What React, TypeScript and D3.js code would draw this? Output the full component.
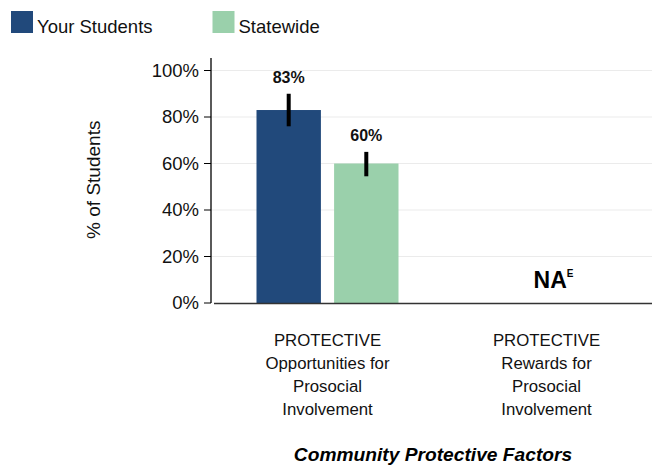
import * as d3 from "d3";

const categories = [
  ["PROTECTIVE", "Opportunities for", "Prosocial", "Involvement"],
  ["PROTECTIVE", "Rewards for", "Prosocial", "Involvement"],
];
const categoryKeys = ["opportunities", "rewards"];
const seriesNames = ["Your Students", "Statewide"];
const seriesColors = ["#21497b", "#9ad0ab"];
// null = not available
const yourStudents = [0.83, null];
const statewide = [0.6, null];
const yourStudentsCI = [[0.76, 0.9], null];
const statewideCI = [[0.545, 0.65], null];
const yTicks = [0, 0.2, 0.4, 0.6, 0.8, 1.0];

const W = 652;
const H = 466;
const FONT = "'Liberation Sans', Arial, Helvetica, sans-serif";

export default function App() {
  const y = d3.scaleLinear().domain([0, 1]).range([303, 70.5]);
  const x0 = d3.scaleBand().domain(categoryKeys).range([218, 656]);
  const x1 = d3.scaleBand().domain(seriesNames).range([-71, 71]).paddingInner(0.17);
  const fmt = d3.format(".0%");
  const axisX = 211;

  const values = [yourStudents, statewide];
  const cis = [yourStudentsCI, statewideCI];

  return (
    <div style={{ position: "absolute", left: 0, top: 0, width: W, height: H, background: "#fff" }}>
      <svg width={W} height={H} style={{ display: "block", fontFamily: FONT }}>
        {/* legend */}
        {seriesNames.map((s, i) => (
          <g key={s} transform={`translate(${11 + i * 201.5},11)`}>
            <rect width={22} height={22} fill={seriesColors[i]} />
            <text x={26} y={22} fontSize={18.5} fill="#111">
              {s}
            </text>
          </g>
        ))}

        {/* gridlines */}
        {yTicks.filter((t) => t > 0).map((t) => (
          <line key={t} x1={axisX} x2={W} y1={y(t)} y2={y(t)} stroke="#ebebeb" strokeWidth={1} />
        ))}

        {/* bars */}
        {categoryKeys.map((c, ci) => (
          <g key={c} transform={`translate(${(x0(c) || 0) + x0.bandwidth() / 2},0)`}>
            {seriesNames.map((s, si) => {
              const v = values[si][ci];
              if (v == null) return null;
              const bx = x1(s) || 0;
              const ci2 = cis[si][ci] as number[];
              const cx = bx + x1.bandwidth() / 2;
              return (
                <g key={s}>
                  <rect x={bx} y={y(v)} width={x1.bandwidth()} height={y(0) - y(v)} fill={seriesColors[si]} />
                  <line x1={cx} x2={cx} y1={y(ci2[0])} y2={y(ci2[1])} stroke="#000" strokeWidth={4} />
                  <text x={cx} y={y(ci2[1]) - 10.5} textAnchor="middle" fontSize={16} fontWeight="bold" fill="#111">
                    {fmt(v)}
                  </text>
                </g>
              );
            })}
            {values.every((arr) => arr[ci] == null) && (
              <text x={7} y={y(0) - 15} textAnchor="middle" fontSize={23} fontWeight="bold" fill="#000">
                NA<tspan fontSize={10} dy={-11}>E</tspan>
              </text>
            )}
            {categories[ci].map((line, li) => (
              <text key={li} x={0} y={345.5 + li * 23.3} textAnchor="middle" fontSize={16.8} fill="#111">
                {line}
              </text>
            ))}
          </g>
        ))}

        {/* y axis */}
        <line x1={axisX} x2={axisX} y1={y(0)} y2={y(1.054)} stroke="#000" strokeWidth={1.3} />
        {yTicks.map((t) => (
          <g key={t} transform={`translate(0,${y(t)})`}>
            <line x1={axisX - 7} x2={axisX} stroke="#000" strokeWidth={1} />
            <text x={axisX - 12} dy="0.35em" textAnchor="end" fontSize={18.5} fill="#111">
              {fmt(t)}
            </text>
          </g>
        ))}
        {/* x axis */}
        <line x1={axisX + 3} x2={W} y1={y(0) + 0.5} y2={y(0) + 0.5} stroke="#333" strokeWidth={1.5} />

        <text
          transform={`translate(100,${(y(0) + y(1)) / 2 - 7}) rotate(-90)`}
          textAnchor="middle"
          fontSize={19}
          fill="#111"
        >
          % of Students
        </text>

        <text x={433} y={461} textAnchor="middle" fontSize={19.2} fontWeight="bold" fontStyle="italic" fill="#000">
          Community Protective Factors
        </text>
      </svg>
    </div>
  );
}
